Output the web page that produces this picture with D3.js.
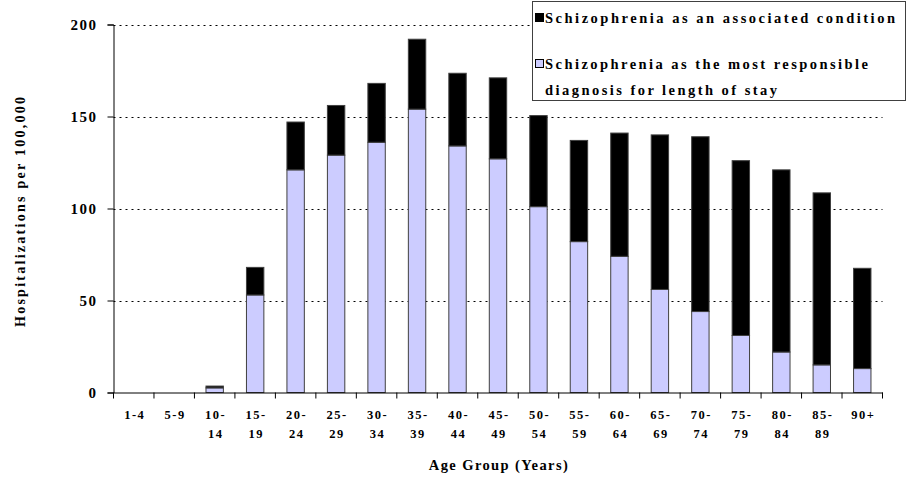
<!DOCTYPE html>
<html>
<head>
<meta charset="utf-8">
<script src="https://cdn.jsdelivr.net/npm/d3@7"></script>
<style>
  body { margin: 0; background: #fff; }
  svg text { font-family: "Liberation Serif", "Times New Roman", serif; font-weight: bold; fill: #000; }
</style>
</head>
<body>
<svg id="chart" width="908" height="479"></svg>
<script>
const ageGroups = ["1-4", "5-9", "10-14", "15-19", "20-24", "25-29", "30-34", "35-39", "40-44", "45-49",
  "50-54", "55-59", "60-64", "65-69", "70-74", "75-79", "80-84", "85-89", "90+"];
// most responsible diagnosis (bottom, lavender)
const mostResponsible = [0, 0, 2.5, 53, 121, 129, 136, 154, 134, 127, 101, 82, 74, 56, 44, 31, 22, 15, 13];
// bar totals; the black part is the difference
const totals = [0, 0, 3.5, 68, 147, 156, 168, 192, 173.5, 171, 150.5, 137, 141, 140, 139, 126, 121, 108.5, 67.5];
const associated = totals.map((t, i) => t - mostResponsible[i]);
const yTicks = [0, 50, 100, 150, 200];
const seriesNames = ["Schizophrenia as an associated condition",
  ["Schizophrenia as the most responsible", "diagnosis for length of stay"]];

const svg = d3.select("#chart");
const margin = { left: 113.5, right: 882.5, top: 24.5, bottom: 392.5 };

const x = d3.scaleBand().domain(ageGroups).range([margin.left, margin.right])
  .paddingInner(0.57).paddingOuter(0.285);
const y = d3.scaleLinear().domain([0, 200]).range([margin.bottom, margin.top]);

// gridlines
svg.append("g").selectAll("line").data(yTicks.filter(d => d > 0)).join("line")
  .attr("x1", margin.left).attr("x2", margin.right)
  .attr("y1", d => Math.round(y(d)) + 0.5).attr("y2", d => Math.round(y(d)) + 0.5)
  .attr("stroke", "#000").attr("stroke-width", 1).attr("stroke-dasharray", "2,4");

// stacked bars
const data = ageGroups.map((g, i) => ({ g, low: mostResponsible[i], high: associated[i] }));
const bars = svg.append("g");
bars.selectAll("rect.low").data(data.filter(d => d.low > 0)).join("rect")
  .attr("class", "low")
  .attr("x", d => x(d.g)).attr("width", x.bandwidth())
  .attr("y", d => y(d.low)).attr("height", d => y(0) - y(d.low))
  .attr("fill", "#ccccff").attr("stroke", "#404040").attr("stroke-width", 1);
bars.selectAll("rect.high").data(data.filter(d => d.high > 0)).join("rect")
  .attr("class", "high")
  .attr("x", d => x(d.g)).attr("width", x.bandwidth())
  .attr("y", d => y(d.low + d.high)).attr("height", d => y(d.low) - y(d.low + d.high))
  .attr("fill", "#000").attr("stroke", "#404040").attr("stroke-width", 1);

// y axis
const yAxis = svg.append("g").attr("transform", `translate(${margin.left},0)`)
  .call(d3.axisLeft(y).tickValues(yTicks).tickSize(6).tickPadding(10));
yAxis.attr("font-family", null).attr("font-size", null);
yAxis.select(".domain").attr("stroke", "#000");
yAxis.selectAll("text").style("font-size", "15px").attr("letter-spacing", 1.5).attr("dy", "0.35em");

// x axis
const xAxis = svg.append("g").attr("transform", `translate(0,${margin.bottom})`)
  .call(d3.axisBottom(x).tickSize(0).tickFormat(""));
xAxis.select(".domain").attr("stroke", "#000");
const step = x.step();
xAxis.selectAll("line.bound").data(d3.range(ageGroups.length + 1)).join("line")
  .attr("class", "bound")
  .attr("x1", i => margin.left + i * step).attr("x2", i => margin.left + i * step)
  .attr("y1", 0).attr("y2", 6).attr("stroke", "#000");
const xl = svg.append("g").selectAll("text").data(ageGroups).join("text")
  .attr("x", d => x(d) + x.bandwidth() / 2 + 1)
  .attr("y", 419)
  .attr("text-anchor", "middle").style("font-size", "12.5px").attr("letter-spacing", 1.5);
xl.each(function (d) {
  const m = d.match(/^(\d+)-(\d+)$/);
  const t = d3.select(this);
  if (m && +m[1] >= 10) {
    t.append("tspan").attr("x", t.attr("x")).text(m[1] + "-");
    t.append("tspan").attr("x", t.attr("x")).attr("dy", 19).text(m[2]);
  } else {
    t.text(d);
  }
});

// axis titles
svg.append("text").attr("x", 499).attr("y", 470).attr("text-anchor", "middle")
  .style("font-size", "14.5px").attr("letter-spacing", 1.4).text("Age Group (Years)");
svg.append("text").attr("transform", "translate(25,212) rotate(-90)").attr("text-anchor", "middle")
  .style("font-size", "14px").attr("textLength", 230).attr("lengthAdjust", "spacing")
  .text("Hospitalizations per 100,000");

// legend
const lg = svg.append("g");
lg.append("rect").attr("x", 532.5).attr("y", 1.5).attr("width", 373).attr("height", 99)
  .attr("fill", "#fff").attr("stroke", "#404040");
lg.append("rect").attr("x", 535.5).attr("y", 13.5).attr("width", 8).attr("height", 8)
  .attr("fill", "#000").attr("stroke", "#000");
lg.append("rect").attr("x", 535.5).attr("y", 59.5).attr("width", 8).attr("height", 8)
  .attr("fill", "#ccccff").attr("stroke", "#000");
lg.append("text").attr("x", 545).attr("y", 23).style("font-size", "14.5px")
  .attr("textLength", 350).attr("lengthAdjust", "spacing").text(seriesNames[0]);
lg.append("text").attr("x", 545).attr("y", 69).style("font-size", "14.5px")
  .attr("textLength", 323).attr("lengthAdjust", "spacing").text(seriesNames[1][0]);
lg.append("text").attr("x", 545).attr("y", 95).style("font-size", "14.5px")
  .attr("textLength", 232).attr("lengthAdjust", "spacing").text(seriesNames[1][1]);
</script>
</body>
</html>
